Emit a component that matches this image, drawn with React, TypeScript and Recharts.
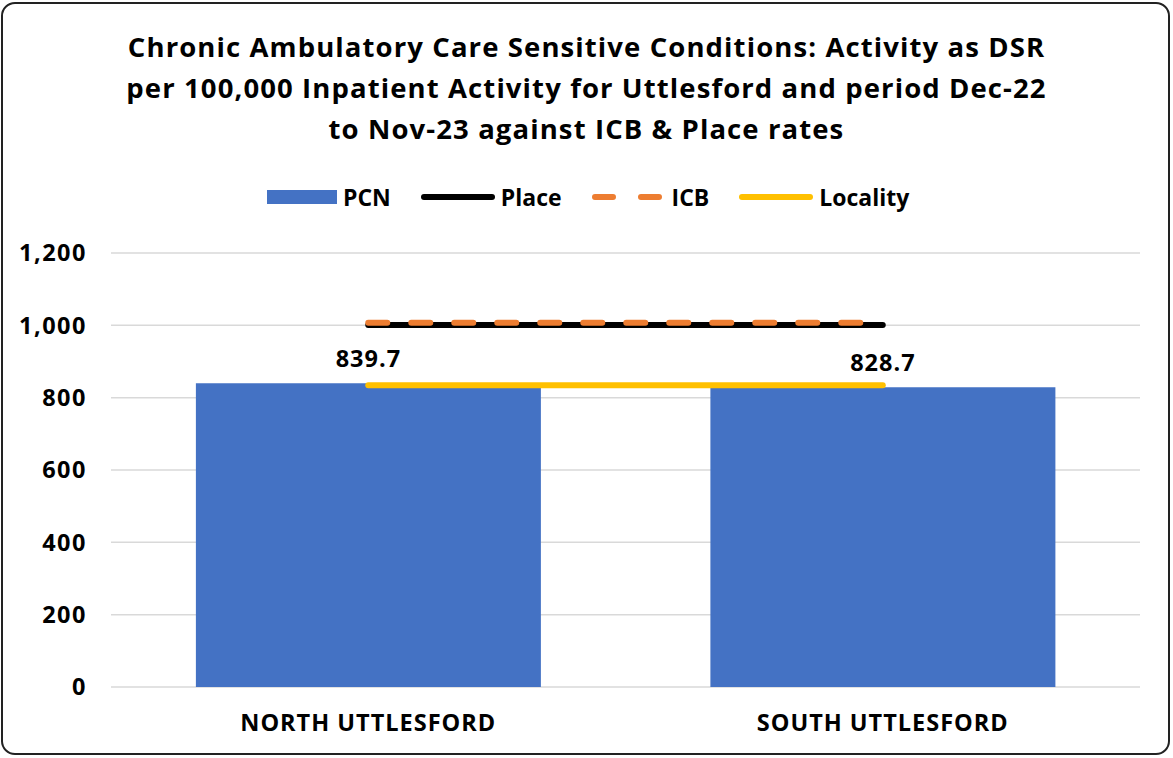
import { ComposedChart, Bar, Line, XAxis, YAxis, CartesianGrid, LabelList } from 'recharts';

const categories = ['NORTH UTTLESFORD', 'SOUTH UTTLESFORD'];
const pcnValues = [839.7, 828.7];
const placeValues = [1001, 1001];
const icbValues = [1007, 1007];
const localityValues = [834, 834];
const yTicks = [0, 200, 400, 600, 800, 1000, 1200];

const titleLines = [
  'Chronic Ambulatory Care Sensitive Conditions: Activity as DSR',
  'per 100,000 Inpatient Activity for Uttlesford and period Dec-22',
  'to Nov-23 against ICB & Place rates',
];

const data = categories.map((name, i) => ({
  name,
  pcn: pcnValues[i],
  place: placeValues[i],
  icb: icbValues[i],
  locality: localityValues[i],
}));

const FONT = "'Open Sans', Lato, sans-serif";
const tickStyle = { fill: '#000', fontSize: 23.5, fontWeight: 700, fontFamily: FONT, letterSpacing: 1 };

const LegendItem = ({ kind, label }: { kind: string; label: string }) => {
  let swatch;
  if (kind === 'bar') {
    swatch = <div style={{ width: 70, height: 14, background: '#4472C4' }} />;
  } else if (kind === 'dash') {
    swatch = (
      <svg width={74} height={8}>
        <line x1={3} y1={4} x2={71} y2={4} stroke="#ED7D31" strokeWidth={6} strokeLinecap="round" strokeDasharray="18 28" />
      </svg>
    );
  } else {
    swatch = (
      <svg width={74} height={8}>
        <line x1={3} y1={4} x2={71} y2={4} stroke={kind} strokeWidth={6} strokeLinecap="round" />
      </svg>
    );
  }
  return (
    <div style={{ display: 'flex', alignItems: 'center', gap: 6, marginRight: 30 }}>
      {swatch}
      <span>{label}</span>
    </div>
  );
};

const App = () => {
  return (
    <div style={{ position: 'fixed', left: 0, top: 0, width: 1173, height: 758, background: '#fff', fontFamily: FONT }}>
      <div
        style={{
          position: 'absolute', left: 1, top: 2, width: 1169, height: 753,
          border: '2px solid #222', borderRadius: 14, boxSizing: 'border-box',
        }}
      />
      <div style={{ position: 'absolute', top: 26, left: 0, width: 1173, textAlign: 'center', fontWeight: 700, fontSize: 27.5, letterSpacing: 1.1, lineHeight: '41px', color: '#000' }}>
        {titleLines.map((t) => (
          <div key={t}>{t}</div>
        ))}
      </div>
      <div style={{ position: 'absolute', top: 181, left: 267, display: 'flex', fontWeight: 700, fontSize: 23, color: '#000' }}>
        <LegendItem kind="bar" label="PCN" />
        <LegendItem kind="#000000" label="Place" />
        <LegendItem kind="dash" label="ICB" />
        <LegendItem kind="#FFC000" label="Locality" />
      </div>
      <div style={{ position: 'absolute', left: 0, top: 0 }}>
        <ComposedChart
          width={1173}
          height={758}
          data={data}
          margin={{ top: 253, right: 33, bottom: 31, left: 11 }}
          barCategoryGap="16.5%"
        >
          <CartesianGrid vertical={false} stroke="#d9d9d9" strokeWidth={1.5} />
          <XAxis
            dataKey="name"
            axisLine={false}
            tickLine={false}
            height={40}
            tickMargin={21}
            tick={tickStyle}
          />
          <YAxis
            domain={[0, 1200]}
            ticks={yTicks}
            axisLine={false}
            tickLine={false}
            width={100}
            tickMargin={18}
            tickFormatter={(v) => Number(v).toLocaleString('en-US')}
            tick={{ ...tickStyle, letterSpacing: 1.5 }}
          />
          <Bar dataKey="pcn" fill="#4472C4" isAnimationActive={false}>
            <LabelList
              dataKey="pcn"
              position="top"
              offset={16}
              formatter={(v: any) => Number(v).toFixed(1)}
              style={{ ...tickStyle, letterSpacing: 1 }}
            />
          </Bar>
          <Line dataKey="place" stroke="#000000" strokeWidth={6} strokeLinecap="round" dot={false} activeDot={false} isAnimationActive={false} />
          <Line dataKey="icb" stroke="#ED7D31" strokeWidth={6} strokeLinecap="round" strokeDasharray="19 24" dot={false} activeDot={false} isAnimationActive={false} />
          <Line dataKey="locality" stroke="#FFC000" strokeWidth={6} strokeLinecap="round" dot={false} activeDot={false} isAnimationActive={false} />
        </ComposedChart>
      </div>
    </div>
  );
};

export default App;
